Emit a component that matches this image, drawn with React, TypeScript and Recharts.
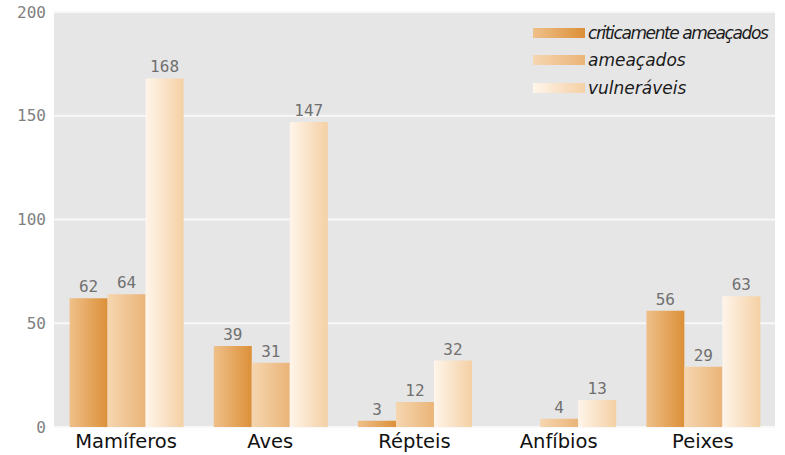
import React from 'react';
import { BarChart, Bar, XAxis, YAxis, CartesianGrid, LabelList, Legend } from 'recharts';

if (typeof document !== 'undefined') {
  document.body.style.margin = '0';
}

const categories = ['Mamíferos', 'Aves', 'Répteis', 'Anfíbios', 'Peixes'];
const critically = [62, 39, 3, null, 56];
const endangered = [64, 31, 12, 4, 29];
const vulnerable = [168, 147, 32, 13, 63];
const yTicks = [0, 50, 100, 150, 200];

const seriesNames = ['criticamente ameaçados', 'ameaçados', 'vulneráveis'];
const seriesKeys = ['crit', 'amea', 'vuln'];
const gradStops = [
  ['#efc08a', '#dc9038'],
  ['#f6d6b0', '#eab478'],
  ['#fff5ea', '#f4d0a4'],
];
const legendSpacing = ['-1.4px', '0px', '0px'];

const data = categories.map((c, i) => ({
  name: c,
  crit: critically[i],
  amea: endangered[i],
  vuln: vulnerable[i],
}));

const mono = '"DejaVu Sans Mono", monospace';
const sans = '"DejaVu Sans", Verdana, sans-serif';

const LegendContent = () => (
  <div style={{ display: 'flex', flexDirection: 'column' }}>
    {seriesNames.map((n, i) => (
      <div key={n} style={{ display: 'flex', alignItems: 'center', height: 27.5 }}>
        <div
          style={{
            width: 52,
            height: 10,
            background: `linear-gradient(to right, ${gradStops[i][0]}, ${gradStops[i][1]})`,
            marginRight: 3,
          }}
        />
        <span
          style={{
            fontFamily: sans,
            fontStyle: 'italic',
            fontSize: 17,
            color: '#1a1a1a',
            letterSpacing: legendSpacing[i],
            whiteSpace: 'nowrap',
          }}
        >
          {n}
        </span>
      </div>
    ))}
  </div>
);

export default function App() {
  return (
    <div style={{ width: 785, height: 455, background: '#fff' }}>
      <BarChart
        width={785}
        height={455}
        data={data}
        margin={{ top: 12, right: 10, bottom: 0, left: 0 }}
        barCategoryGap="10.8%"
        barGap={0}
      >
        <defs>
          {gradStops.map((s, i) => (
            <linearGradient key={i} id={`g${i}`} x1="0" y1="0" x2="1" y2="0">
              <stop offset="0%" stopColor={s[0]} />
              <stop offset="100%" stopColor={s[1]} />
            </linearGradient>
          ))}
        </defs>
        <CartesianGrid
          vertical={false}
          fill="#e6e6e6"
          fillOpacity={1}
          stroke="#f8f8f8"
          strokeWidth={2}
        />
        <XAxis
          dataKey="name"
          axisLine={false}
          tickLine={false}
          height={28}
          tick={{ fontFamily: sans, fontSize: 19.5, fill: '#111' }}
          tickMargin={7}
          tickSize={0}
        />
        <YAxis
          width={54}
          domain={[0, 200]}
          ticks={yTicks}
          axisLine={false}
          tickLine={false}
          tick={{ fontFamily: mono, fontSize: 16, fill: '#808080' }}
        />
        <Legend
          layout="vertical"
          align="center"
          verticalAlign="middle"
          content={<LegendContent />}
          wrapperStyle={{ top: 19, left: 533, width: 250 }}
        />
        {seriesKeys.map((k, i) => (
          <Bar key={k} dataKey={k} name={seriesNames[i]} fill={`url(#g${i})`} isAnimationActive={false}>
            <LabelList
              dataKey={k}
              position="top"
              offset={6}
              style={{ fontFamily: mono, fontSize: 16, fill: '#707070' }}
            />
          </Bar>
        ))}
      </BarChart>
    </div>
  );
}
